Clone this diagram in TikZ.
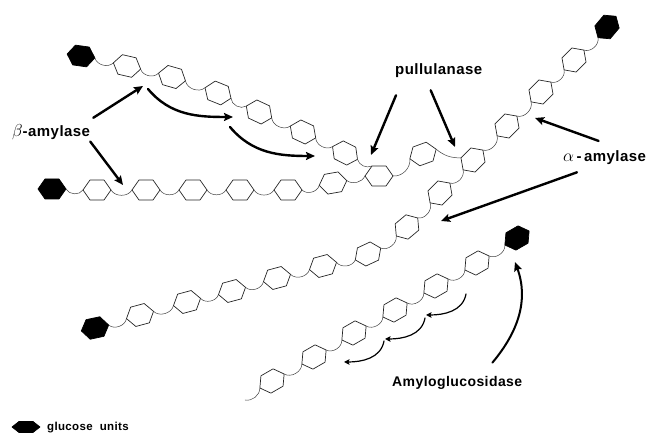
\documentclass[tikz,border=0pt]{standalone}
\usepackage{fontspec}
\newfontfamily\labelfont[LetterSpace=3]{Liberation Sans}
\usetikzlibrary{arrows.meta}
\tikzset{
  unit/.style={draw=black!85, line width=0.7pt, fill=white},
  endunit/.style={draw=black, line width=0.7pt, fill=black},
  link/.style={draw=black!75, line width=0.5pt},
  attack/.style={line width=2.4pt, -{Stealth[length=9pt,width=8pt,inset=1.5pt]}},
  exo/.style={line width=1.2pt, -{Stealth[length=5.5pt,width=5.5pt,inset=1pt]}},
  enzyme/.style={font=\labelfont\bfseries\fontsize{15}{17}\selectfont, inner sep=0pt, anchor=base west},
}
% one glucose ring: [style]{name}{x}{y}{turn}
\newcommand\glc[5][unit]{%
  \begin{scope}[shift={(#3,#4)},rotate=#5]
    \coordinate (#2) at (0,0);
    \draw[#1] (14,0) coordinate (#2-r) -- (7,10) coordinate (#2-tr)
      -- (-7,10) coordinate (#2-tl) -- (-14,0) coordinate (#2-l)
      -- (-7,-10) coordinate (#2-bl) -- (7,-10) coordinate (#2-br) -- cycle;
  \end{scope}}
\begin{document}
\begin{tikzpicture}[x=1pt,y=1pt, line join=round, line cap=round]
  \useasboundingbox (0,0) rectangle (648,435);
  % upper chain, hangs from the branch ring
  \glc[endunit]{a0}{81}{379}{-8}
  \foreach \n/\x/\y/\t in {1/127/369/-13, 2/172/358/-16, 3/218/342/-22,
      4/259/323/-25, 5/303/303/-25, 6/345/282/-27}
    \glc{a\n}{\x}{\y}{\t};
  % straight chain and the branch ring
  \glc[endunit]{b0}{52}{246}{0}
  \foreach \n/\x/\y/\t in {1/97/245/0, 2/146/245/0, 3/193/245/0,
      4/240/245/0, 5/288/245/0, 6/333/252/10}
    \glc{b\n}{\x}{\y}{\t};
  \glc{J}{379}{259}{0}
  \glc{b7}{423}{281}{20}
  % long backbone
  \glc[endunit]{c0}{95}{107}{12}
  \foreach \n/\x/\y/\t in {1/140/120/15, 2/187/133/15, 3/232/144/15,
      4/277/157/15, 5/323/169/15, 6/368/181/25, 7/407/208/40, 8/440/242/45,
      9/473/275/45, 10/507/309/45, 11/541/343/45, 12/574/375/45}
    \glc{c\n}{\x}{\y}{\t};
  \glc[endunit]{c13}{607}{408}{50}
  % free chain, eaten from its end
  \glc[endunit]{d0}{517}{197}{30}
  \foreach \n/\x/\y in {1/477/172, 2/436/149, 3/395/125, 4/354/102,
      5/314/78, 6/272/54}
    \glc{d\n}{\x}{\y}{30};

  % glycosidic links
  \foreach \i [count=\j] in {0,...,5}
    \draw[link] (a\i-r) to[bend right=60] (a\j-l);
  \foreach \i [count=\j] in {0,...,5}
    \draw[link] (b\i-r) to[bend right=60] (b\j-l);
  \draw[link] (b6-r) to[bend right=50] (J-l);
  \draw[link] (a6-r) to[bend right=50] (J-tl);
  \draw[link] (J-r) to[bend right=50] (b7-l);
  \draw[link] (b7-r) to[bend right=20] (c9-tl);
  \foreach \i [count=\j] in {0,...,12}
    \draw[link] (c\i-r) to[bend right=60] (c\j-l);
  \foreach \i [count=\j] in {0,...,5}
    \draw[link] (d\j-r) to[bend right=60] (d\i-l);
  \coordinate (dtail) at (245,35);
  \draw[link] (dtail) to[bend right=50] (d6-l);

  % enzymes
  \node[enzyme] (beta) at (12,298) {{\LARGE$\beta$}-amylase};
  \node[enzyme] (pull) at (395,360) {pullulanase};
  \node[enzyme] (alpha) at (563,273) {{\LARGE$\alpha$}\,-\,amylase};
  \node[enzyme, font=\labelfont\bfseries\fontsize{14}{16}\selectfont] (amg) at (392,48) {Amyloglucosidase};

  \coordinate (cutA) at (143,349);
  \coordinate (cutB) at (123,250);
  \coordinate (cutC) at (233,318);
  \coordinate (cutD) at (315,279);
  \coordinate (cutE) at (371,280);
  \coordinate (cutF) at (455,288);
  \coordinate (cutG) at (535,317);
  \coordinate (cutH) at (441,214);
  \coordinate (cutI) at (515,173);

  \draw[attack] ([shift={(3,7)}]beta.north east) -- (cutA);
  \draw[attack] ([shift={(0,-1)}]beta.south east) -- (cutB);
  \draw[attack] ([shift={(5,-3)}]cutA) to[out=-50,in=180] (cutC);
  \draw[attack] ([shift={(-3,-10)}]cutC) to[out=-50,in=180] (cutD);
  \draw[attack] ([shift={(1,-17)}]pull.south west) -- (cutE);
  \draw[attack] ([shift={(-8,-12)}]pull.south) -- (cutF);
  \draw[attack] ([shift={(-6,10)}]alpha.north) -- (cutG);
  \draw[attack] ([shift={(14,-7)}]alpha.south west) -- (cutH);
  \draw[attack, line width=2pt] ([shift={(-30,14)}]amg.north east)
    to[out=50,in=-70] (cutI);
  \foreach \r in {2,3,4}
    \draw[exo] ([shift={(30,-8)}]d\r) to[out=-100,in=0] ([shift={(-10,-29)}]d\r);

  % key
  \begin{scope}[shift={(26,8)},yscale=0.55]
    \draw[endunit] (14,0) -- (7,10) -- (-7,10) -- (-14,0) -- (-7,-10) -- (7,-10) -- cycle;
  \end{scope}
  \node[enzyme, font=\labelfont\bfseries\fontsize{11.5}{13}\selectfont] (key) at (47,4) {glucose\ \ units};
\end{tikzpicture}
\end{document}
